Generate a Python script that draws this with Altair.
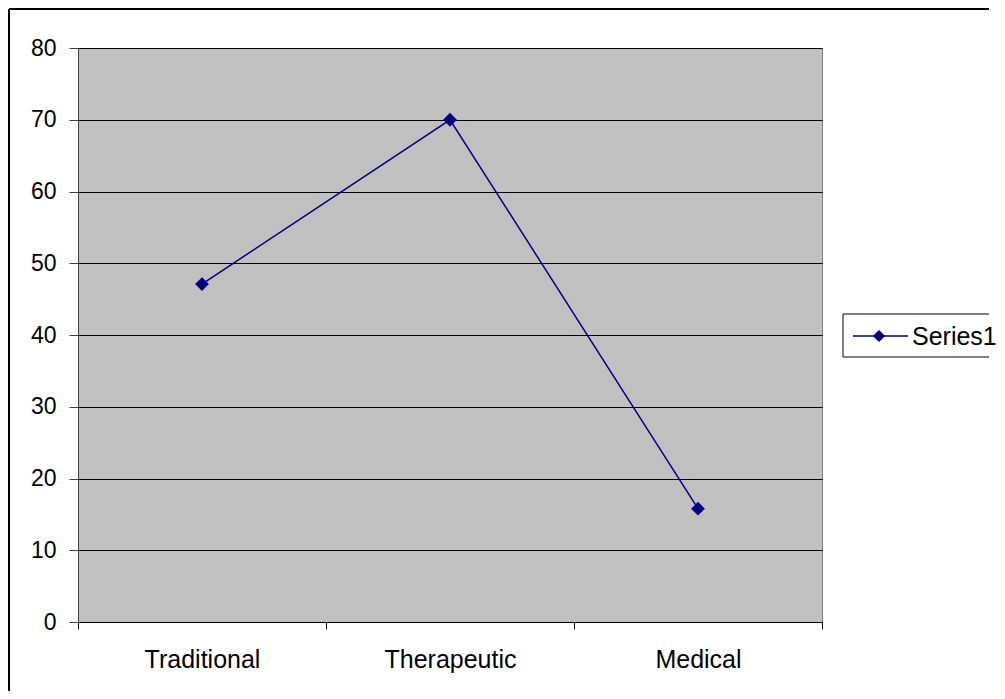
import altair as alt
import pandas as pd

categories = ["Traditional", "Therapeutic", "Medical"]
values = [47.1, 70.0, 15.8]
series_name = "Series1"
y_ticks = [0, 10, 20, 30, 40, 50, 60, 70, 80]

df = pd.DataFrame({"category": categories, "value": values, "series": [series_name] * 3})
legend_df = pd.DataFrame({"series": [series_name]})
one = pd.DataFrame({"k": [0]})

FONT = "Liberation Sans"
NAVY = "#000080"

x_enc = alt.X("category:N", sort=categories, title=None,
              scale=alt.Scale(paddingInner=0, paddingOuter=0),
              axis=alt.Axis(tickBand="extent", labelAngle=0, labelFontSize=25, labelFont=FONT,
                            labelColor="#000000", tickSize=7, tickColor="#000000",
                            domainColor="#000000", labelPadding=18, grid=False))
y_enc = alt.Y("value:Q", title=None,
              scale=alt.Scale(domain=[0, 80], nice=False),
              axis=alt.Axis(values=y_ticks, labelFontSize=23, labelFont=FONT, labelColor="#000000",
                            tickSize=9, tickColor="#404040", domainColor="#404040",
                            labelPadding=13, grid=True, gridColor="#000000", gridWidth=1))

line = alt.Chart(df).mark_line(color=NAVY, strokeWidth=1.5).encode(x=x_enc, y=y_enc)
pts = alt.Chart(df).mark_point(shape="diamond", filled=True, color=NAVY, size=190, opacity=1).encode(
    x=alt.X("category:N", sort=categories), y="value:Q")

# outer border (left and top visible)
border_left = alt.Chart(one).mark_rule(color="#000000", strokeWidth=2).encode(
    x=alt.value(-69), y=alt.value(-39), y2=alt.value(643))
border_top = alt.Chart(one).mark_rule(color="#000000", strokeWidth=2).encode(
    x=alt.value(-69), x2=alt.value(911), y=alt.value(-39))

# legend box
lg_fill = alt.Chart(one).mark_rect(fill="white").encode(
    x=alt.value(765), x2=alt.value(911), y=alt.value(266), y2=alt.value(309))
lg_top = alt.Chart(one).mark_rule(color="#000000", strokeWidth=1).encode(
    x=alt.value(765), x2=alt.value(911), y=alt.value(266))
lg_bot = alt.Chart(one).mark_rule(color="#000000", strokeWidth=1).encode(
    x=alt.value(765), x2=alt.value(911), y=alt.value(309))
lg_left = alt.Chart(one).mark_rule(color="#000000", strokeWidth=1).encode(
    x=alt.value(765), y=alt.value(266), y2=alt.value(309))
lg_line = alt.Chart(legend_df).mark_rule(color=NAVY, strokeWidth=1.5).encode(
    x=alt.value(775), x2=alt.value(830), y=alt.value(288))
lg_pt = alt.Chart(legend_df).mark_point(shape="diamond", filled=True, color=NAVY, size=150, opacity=1).encode(
    x=alt.value(801), y=alt.value(288))
lg_txt = alt.Chart(legend_df).mark_text(align="left", baseline="middle", fontSize=25, font=FONT,
                                        color="#000000").encode(
    x=alt.value(834), y=alt.value(289), text="series:N")

chart = alt.layer(line, pts, border_left, border_top, lg_fill, lg_top, lg_bot, lg_left,
                  lg_line, lg_pt, lg_txt).properties(
    width=744, height=574,
    autosize=alt.AutoSizeParams(type="none"),
    padding={"left": 70, "top": 40, "right": 175, "bottom": 69},
    background="white",
).configure_view(fill="#C0C0C0", stroke="#808080", strokeWidth=1)

chart.save("out.html", embed_options={"renderer": "svg", "actions": False})
